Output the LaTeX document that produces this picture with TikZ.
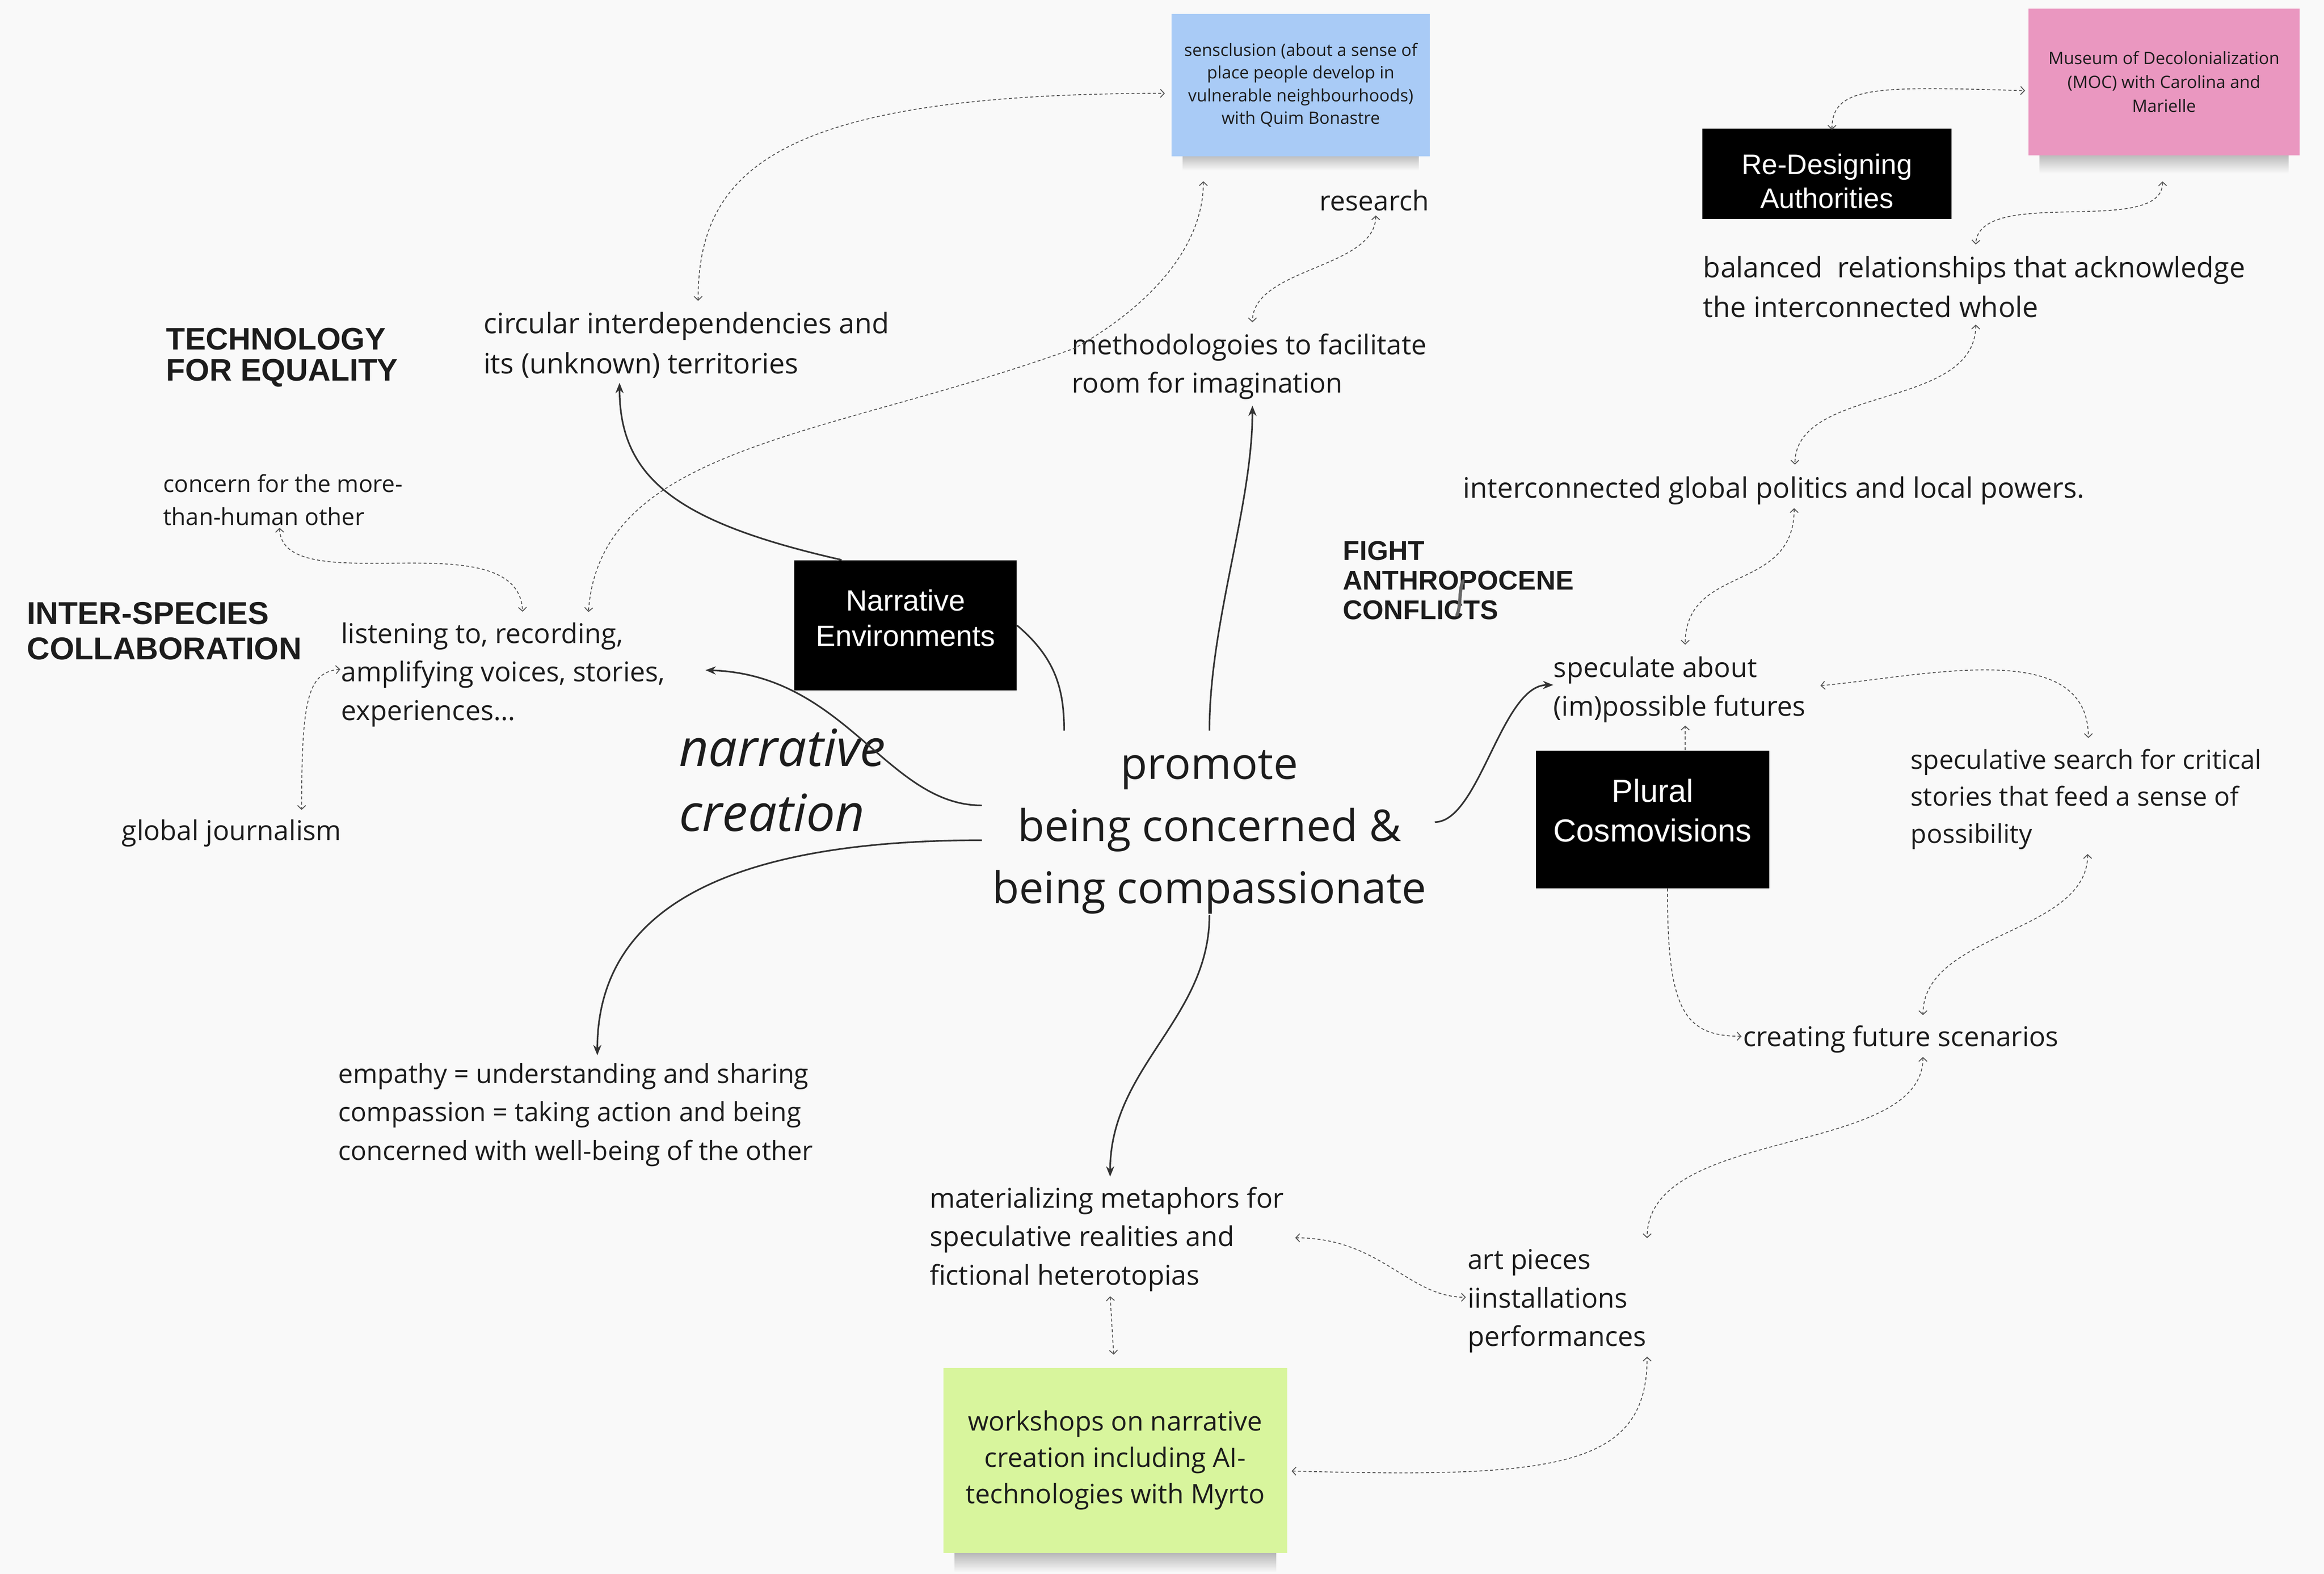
\documentclass[tikz,border=0pt]{standalone}
\usepackage{fontspec}
\setmainfont{Open Sans}
\newfontfamily\helv{Liberation Sans}
\usetikzlibrary{arrows.meta,calc}
\definecolor{bg}{HTML}{F9F9F9}
\definecolor{ink}{HTML}{1C1C1C}
\definecolor{dline}{HTML}{555555}
\definecolor{sline}{HTML}{333333}
\definecolor{bluenote}{HTML}{A9CBF6}
\definecolor{pinknote}{HTML}{EA97C0}
\definecolor{greennote}{HTML}{D8F59D}
\begin{document}
\begin{tikzpicture}[x=1pt,y=-1pt,
  txt/.style={anchor=north west, inner sep=0pt, align=left, text=ink, font=\fontsize{18.4}{26}\selectfont},
  head/.style={anchor=north west, inner sep=0pt, align=left, text=ink},
  blackbox/.style={fill=black, inner sep=0pt, draw=none},
  boxtext/.style={text=white, align=center, inner sep=0pt},
  note/.style={inner sep=0pt, align=center, text=ink},
  solidarrow/.style={draw=sline, line width=1.1pt, -{Stealth[length=7pt,width=5.5pt]}},
  solidline/.style={draw=sline, line width=1.1pt},
  dashlink/.style={draw=dline, line width=0.6pt, dash pattern=on 2pt off 1.6pt, {Straight Barb[length=2.6pt,width=5.5pt]}-{Straight Barb[length=2.6pt,width=5.5pt]}},
  dashone/.style={draw=dline, line width=0.6pt, dash pattern=on 2pt off 1.6pt, -{Straight Barb[length=2.6pt,width=5.5pt]}},
  notoshadow/.style={top color=black!38, bottom color=bg, draw=none},
]
\fill[bg] (0,0) rectangle (1568,1062);
\useasboundingbox (0,0) rectangle (1568,1062);

% sticky notes
\shade[notoshadow] (798,100) rectangle (957,115);
\node[note, fill=bluenote, minimum width=174pt, minimum height=96pt, font=\fontsize{11.5}{15.3}\selectfont] (blue) at (877.6,57.4) {sensclusion (about a sense of\\place people develop in\\vulnerable neighbourhoods)\\with Quim Bonastre};
\shade[notoshadow] (1376,99) rectangle (1544,117);
\node[note, fill=pinknote, minimum width=183pt, minimum height=99pt, font=\fontsize{11.5}{16}\selectfont] (pink) at (1460,55.2) {Museum of Decolonialization\\(MOC) with Carolina and\\Marielle};
\shade[notoshadow] (644,1043) rectangle (861,1061);
\node[note, fill=greennote, minimum width=232pt, minimum height=125pt, font=\fontsize{18}{24.5}\selectfont] (green) at (752.4,985.4) {workshops on narrative\\creation including AI-\\technologies with Myrto};

% black boxes
\node[blackbox, minimum width=150pt, minimum height=88pt,
  label={[boxtext, yshift=5pt, font=\helv\fontsize{19.8}{24}\selectfont]center:Narrative\\Environments}] (narrbox) at (611,422) {};
\node[blackbox, minimum width=168pt, minimum height=61pt,
  label={[boxtext, yshift=-5pt, font=\helv\fontsize{19}{23}\selectfont]center:Re-Designing\\Authorities}] (redes) at (1232.6,117.25) {};
\node[blackbox, minimum width=157.4pt, minimum height=93pt,
  label={[boxtext, yshift=6pt, font=\helv\fontsize{21.5}{27}\selectfont]center:Plural\\Cosmovisions}] (plural) at (1115,552.9) {};

% headings
\node[head, font=\helv\bfseries\fontsize{21}{21}\selectfont] (tech) at (112,221) {TECHNOLOGY\\FOR EQUALITY};
\node[head, font=\helv\bfseries\fontsize{21.3}{24}\selectfont] (inters) at (18,406) {INTER-SPECIES\\COLLABORATION};
\node[head, font=\helv\bfseries\fontsize{18.3}{20}\selectfont] (fight) at (906,365) {FIGHT\\ANTHROPOCENE\\CONFLICTS};
\draw[line width=2.2pt, black!60, line cap=round] (987,392) .. controls (984,400) and (986,408) .. (983,415);

% body texts
\node[txt, font=\fontsize{19}{27}\selectfont] (circ) at (326,210.5) {circular interdependencies and\\its (unknown) territories};
\node[txt] (method) at (723,224.8) {methodologoies to facilitate\\room for imagination};
\node[txt] (research) at (890,127.8) {research};
\node[txt, font=\fontsize{19}{27}\selectfont] (balanced) at (1149,172.5) {balanced\ \ relationships that acknowledge\\the interconnected whole};
\node[txt, font=\fontsize{19}{26}\selectfont] (inter) at (987,321.5) {interconnected global politics and local powers.};
\node[txt] (specul) at (1048,442.8) {speculate about\\(im)possible futures};
\node[txt, font=\fontsize{17.6}{25}\selectfont] (search) at (1289,505.2) {speculative search for critical\\stories that feed a sense of\\possibility};
\node[txt] (creating) at (1176,691.8) {creating future scenarios};
\node[txt] (art) at (990,842.8) {art pieces\\iinstallations\\performances};
\node[txt] (mater) at (627,800.8) {materializing metaphors for\\speculative realities and\\fictional heterotopias};
\node[txt, font=\fontsize{17.8}{26}\selectfont] (empathy) at (228,717.1) {empathy = understanding and sharing\\compassion = taking action and being\\concerned with well-being of the other};
\node[txt] (listen) at (230,419.8) {listening to, recording,\\amplifying voices, stories,\\experiences...};
\node[txt] (global) at (82,552.8) {global journalism};
\node[txt, font=\fontsize{15.8}{22}\selectfont] (concern) at (110,320) {concern for the more-\\than-human other};
\node[txt, font=\itshape\fontsize{34.5}{44}\selectfont] (narrcre) at (458,491.5) {narrative\\creation};
\node[anchor=north, inner sep=0pt, align=center, text=ink, font=\fontsize{29.5}{42}\selectfont] (promote) at (816,506) {promote\\being concerned \&\\being compassionate};

% solid connectors
\draw[solidarrow] ($(promote.north)+(0,-13)$) .. controls +(0,-73) and +(0,68) .. ($(method.south west)+(122,4)$);
\draw[solidarrow] ($(narrbox.north west)+(32,0)$) .. controls +(-110,-25) and +(0,65) .. ($(circ.south west)+(92,3)$);
\draw[solidline] (narrbox.east) .. controls +(26,22) and +(0,-28) .. ($(promote.north west)+(48.5,-13)$);
\draw[solidarrow] ($(promote.west)+(-7,-18)$) .. controls +(-64,0) and +(95,3) .. ($(listen.east)+(27,-3)$);
\draw[solidarrow] ($(promote.west)+(-7,5.5)$) .. controls +(-184,0) and +(0,-92) .. ($(empathy.north west)+(175,-5)$);
\draw[solidarrow] ($(promote.south)+(0,0.5)$) .. controls +(0,70) and +(0,-74) .. ($(mater.north west)+(122,-6.8)$);
\draw[solidarrow] ($(promote.east)+(5.5,-6.75)$) .. controls +(30,0) and +(-35,0) .. ($(specul.west)+(0,-3)$);

% dashed connectors
\draw[dashlink] ($(circ.north west)+(145,-7.5)$) .. controls +(0,-88) and +(-262,0) .. ($(blue.west)+(-4.5,5.6)$);
\draw[dashlink] ($(blue.south west)+(21.5,16.7)$) .. controls +(0,48) and +(45,-25) .. ($(method.north west)+(2,10.2)$) .. controls +(-165,60) and +(8,-113) .. ($(listen.north west)+(167,-6.8)$);
\draw[dashlink] ($(research.south)+(1,3)$) .. controls +(0,36) and +(0,-37) .. ($(method.north west)+(122,-7.3)$);
\draw[dashlink] ($(redes.north)+(3.4,1)$) .. controls +(0,-30) and +(-100,-3) .. ($(pink.west)+(-2,6)$);
\draw[dashlink] ($(pink.south)+(-1,17.5)$) .. controls +(1,38) and +(2,-40) .. ($(balanced.north west)+(184,-7.5)$);
\draw[dashlink] ($(balanced.south west)+(184,4.5)$) .. controls +(0,58) and +(0,-54) .. ($(inter.north west)+(224,-8)$);
\draw[dashlink] ($(inter.south west)+(223.5,2)$) .. controls +(0,58) and +(0,-55) .. ($(specul.north west)+(89,-7.8)$);
\draw[dashone] ($(plural.north)+(22,0)$) -- ($(specul.south west)+(89,2)$);
\draw[dashlink] ($(specul.east)+(10,-2.5)$) .. controls +(73,-7) and +(0,-68) .. ($(search.north west)+(120,-7.2)$);
\draw[dashlink] ($(search.south west)+(119.5,3)$) .. controls +(0,54) and +(0,-56) .. ($(creating.north west)+(121.4,-6.8)$);
\draw[dashone] ($(plural.south)+(10,0)$) .. controls +(0,80) and +(-40,0) .. ($(creating.west)+(-1,-2)$);
\draw[dashlink] ($(creating.south west)+(121.4,2.5)$) .. controls +(0,68) and +(0,-76) .. ($(art.north west)+(121.3,-7.3)$);
\draw[dashlink] ($(mater.east)+(7.4,-1)$) .. controls +(58,0) and +(-39,0) .. ($(art.west)+(-1,-2.6)$);
\draw[dashlink] ($(mater.south west)+(122,3)$) -- ($(green.north)+(-1,-8.6)$);
\draw[dashlink] ($(green.east)+(2.8,7.2)$) .. controls +(179,5) and +(0,75) .. ($(art.south west)+(121.3,2.3)$);
\draw[dashlink] ($(concern.south west)+(78.6,1.5)$) .. controls +(1.4,51) and +(-2.6,-63) .. ($(listen.north west)+(122.6,-7)$);
\draw[dashlink] ($(listen.west)+(-0.4,-3.6)$) .. controls +(-22,2) and +(0,-75) .. ($(global.north west)+(121.5,-6.3)$);
\end{tikzpicture}
\end{document}
